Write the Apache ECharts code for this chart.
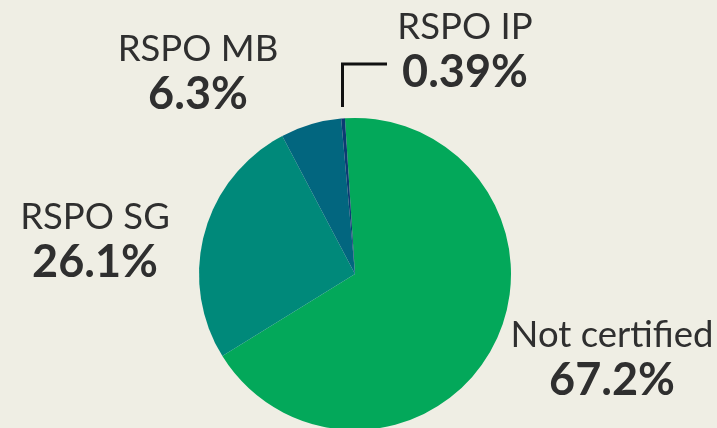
<!DOCTYPE html>
<html>
<head>
<meta charset="utf-8">
<style>
  html, body { margin: 0; padding: 0; background: #efeee4; }
  #chart { width: 717px; height: 428px; }
</style>
<script src="https://cdn.jsdelivr.net/npm/echarts@6/dist/echarts.min.js"></script>
</head>
<body>
<div id="chart"></div>
<script>
// 认证类别 (clockwise from top)
const categories = ['Not certified', 'RSPO SG', 'RSPO MB', 'RSPO IP']
const shares = [67.2, 26.1, 6.3, 0.39]
const valueLabels = ['67.2%', '26.1%', '6.3%', '0.39%']
const colors = ['#03a85a', '#00897a', '#02667f', '#0b3b73']

// label block centres, in px
const labelPos = [[612, 358], [95, 240], [198, 72], [465, 50]]

const chart = echarts.init(document.getElementById('chart'))

chart.setOption({
  backgroundColor: '#efeee4',
  animation: false,
  series: [{
    type: 'pie',
    center: [355, 274],
    radius: 156,
    startAngle: 93.7,
    avoidLabelOverlap: false,
    data: categories.map((name, i) => ({
      name: name,
      value: shares[i],
      itemStyle: { color: colors[i] },
      labelLine: { show: i === 3 }
    })),
    label: {
      show: true,
      position: 'outside',
      formatter: p => '{n|' + p.name + '}\n{v|' + valueLabels[p.dataIndex] + '}',
      align: 'center',
      verticalAlign: 'middle',
      rich: {
        n: { fontFamily: 'Lato', fontSize: 36.5, fontWeight: 'normal', color: '#2f2f2f', lineHeight: 44, align: 'center' },
        v: { fontFamily: 'Lato', fontSize: 45, fontWeight: 'bold', color: '#2f2f2f', lineHeight: 46, align: 'center' }
      }
    },
    labelLine: {
      show: true,
      smooth: false,
      lineStyle: { color: '#111', width: 3 }
    },
    labelLayout: function (p) {
      const pos = labelPos[p.dataIndex]
      const out = { x: pos[0], y: pos[1], align: 'center', verticalAlign: 'middle' }
      if (p.dataIndex === 3) {
        out.labelLinePoints = [[342.5, 107], [342.5, 64], [387, 64]]
      }
      return out
    }
  }]
})
</script>
</body>
</html>
